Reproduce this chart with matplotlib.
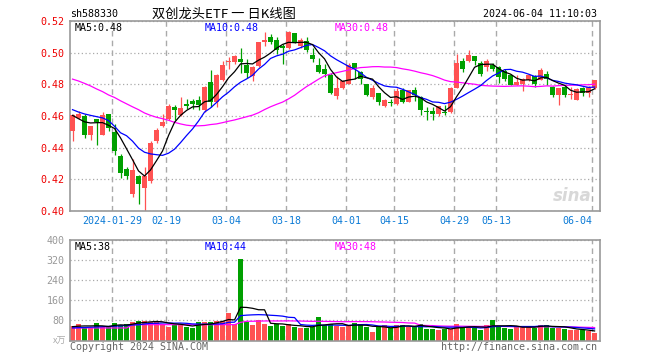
import numpy as np
import pandas as pd
import matplotlib
matplotlib.use("Agg")
import matplotlib.pyplot as plt
from matplotlib.transforms import blended_transform_factory

# trading days shown (Jan 18 - Jun 4 2024, exchange holidays removed)
holidays = ["2024-02-09", "2024-02-12", "2024-02-13", "2024-02-14", "2024-02-15",
            "2024-02-16", "2024-04-04", "2024-04-05", "2024-05-01", "2024-05-02", "2024-05-03"]
dates = [d.strftime("%Y-%m-%d") for d in pd.bdate_range("2024-01-18", "2024-06-04")
         if d.strftime("%Y-%m-%d") not in holidays]

opens = [0.4504, 0.4590, 0.4600, 0.4480, 0.4580, 0.4480, 0.4610, 0.4500, 0.4345, 0.4263,
         0.4105, 0.4220, 0.4148, 0.4190, 0.4440, 0.4535, 0.4580, 0.4660, 0.4608, 0.4675,
         0.4697, 0.4698, 0.4635, 0.4815, 0.4690, 0.4827, 0.4938, 0.4938, 0.4963, 0.4925,
         0.4855, 0.4915, 0.5067, 0.5098, 0.5077, 0.5042, 0.5030, 0.5125, 0.5045, 0.5075,
         0.4985, 0.4925, 0.4895, 0.4860, 0.4725, 0.4775, 0.4805, 0.4932, 0.4880, 0.4803,
         0.4720, 0.4744, 0.4665, 0.4690, 0.4678, 0.4763, 0.4690, 0.4763, 0.4718, 0.4627,
         0.4633, 0.4613, 0.4625, 0.4625, 0.4780, 0.4950, 0.4946, 0.4977, 0.4936, 0.4910,
         0.4925, 0.4908, 0.4885, 0.4858, 0.4796, 0.4800, 0.4825, 0.4855, 0.4827, 0.4865,
         0.4785, 0.4733, 0.4785, 0.4732, 0.4704, 0.4779, 0.4744, 0.4775]
highs = [0.4615, 0.4630, 0.4610, 0.4540, 0.4580, 0.4625, 0.4610, 0.4550, 0.4360, 0.4280,
         0.4330, 0.4230, 0.4280, 0.4445, 0.4525, 0.4610, 0.4675, 0.4670, 0.4720, 0.4705,
         0.4710, 0.4725, 0.4790, 0.4890, 0.4865, 0.4950, 0.4970, 0.4985, 0.5030, 0.4960,
         0.4915, 0.5070, 0.5130, 0.5120, 0.5098, 0.5055, 0.5140, 0.5125, 0.5090, 0.5100,
         0.5030, 0.4965, 0.4930, 0.4870, 0.4850, 0.4825, 0.4932, 0.4935, 0.4885, 0.4805,
         0.4795, 0.4747, 0.4710, 0.4708, 0.4775, 0.4775, 0.4766, 0.4785, 0.4728, 0.4655,
         0.4660, 0.4665, 0.4670, 0.4785, 0.4992, 0.4965, 0.5015, 0.4978, 0.4945, 0.4963,
         0.4935, 0.4915, 0.4895, 0.4862, 0.4858, 0.4838, 0.4863, 0.4858, 0.4903, 0.4885,
         0.4790, 0.4780, 0.4787, 0.4785, 0.4775, 0.4785, 0.4787, 0.4827]
lows = [0.4445, 0.4580, 0.4460, 0.4450, 0.4420, 0.4480, 0.4505, 0.4355, 0.4210, 0.4200,
        0.4090, 0.4045, 0.4000, 0.4180, 0.4430, 0.4530, 0.4575, 0.4575, 0.4600, 0.4645,
        0.4645, 0.4635, 0.4625, 0.4660, 0.4657, 0.4820, 0.4897, 0.4930, 0.4869, 0.4840,
        0.4820, 0.4910, 0.5045, 0.5055, 0.4994, 0.4931, 0.5025, 0.5063, 0.5030, 0.5005,
        0.4940, 0.4870, 0.4848, 0.4740, 0.4710, 0.4770, 0.4800, 0.4835, 0.4805, 0.4725,
        0.4705, 0.4669, 0.4660, 0.4663, 0.4672, 0.4685, 0.4687, 0.4695, 0.4604, 0.4577,
        0.4572, 0.4603, 0.4605, 0.4620, 0.4775, 0.4875, 0.4944, 0.4925, 0.4855, 0.4882,
        0.4885, 0.4810, 0.4818, 0.4795, 0.4795, 0.4760, 0.4820, 0.4785, 0.4825, 0.4795,
        0.4722, 0.4668, 0.4723, 0.4708, 0.4700, 0.4729, 0.4722, 0.4772]
closes = [0.4604, 0.4610, 0.4480, 0.4535, 0.4560, 0.4606, 0.4525, 0.4380, 0.4237, 0.4218,
          0.4260, 0.4170, 0.4220, 0.4430, 0.4510, 0.4565, 0.4660, 0.4635, 0.4650, 0.4665,
          0.4678, 0.4670, 0.4785, 0.4690, 0.4857, 0.4925, 0.4946, 0.4980, 0.4938, 0.4870,
          0.4910, 0.5065, 0.5077, 0.5067, 0.5020, 0.5030, 0.5133, 0.5065, 0.5080, 0.5018,
          0.4958, 0.4880, 0.4868, 0.4745, 0.4780, 0.4820, 0.4923, 0.4896, 0.4835, 0.4733,
          0.4777, 0.4686, 0.4704, 0.4685, 0.4757, 0.4690, 0.4763, 0.4730, 0.4637, 0.4623,
          0.4613, 0.4663, 0.4620, 0.4778, 0.4935, 0.4895, 0.4985, 0.4946, 0.4863, 0.4946,
          0.4896, 0.4849, 0.4835, 0.4796, 0.4817, 0.4835, 0.4860, 0.4802, 0.4890, 0.4833,
          0.4733, 0.4780, 0.4733, 0.4734, 0.4771, 0.4744, 0.4785, 0.4825]
# volume, in 万 shares
volumes = [58, 66, 49, 51, 70, 55, 54, 70, 62, 65, 74, 79, 78, 75, 73, 67, 55, 62, 66, 55,
           50, 74, 74, 74, 79, 79, 111, 67, 326, 75, 62, 82, 66, 58, 65, 58, 66, 54, 50, 50,
           53, 94, 62, 66, 58, 54, 58, 71, 66, 54, 34, 54, 62, 49, 62, 62, 55, 55, 66, 47,
           47, 42, 47, 47, 66, 55, 55, 51, 42, 62, 82, 55, 51, 46, 55, 58, 55, 51, 62, 62,
           51, 51, 46, 42, 40, 40, 38, 30]

# moving-average values before enough history exists
ma5_head = [0.4604, 0.4583, 0.4563, 0.4556]
ma10_head = [0.4640, 0.4625, 0.4613, 0.4604, 0.4596, 0.4588, 0.4571, 0.4535, 0.4494]
ma30_head = [0.4833, 0.4821, 0.4806, 0.4790, 0.4771, 0.4754, 0.4733, 0.4717, 0.4696, 0.4677,
             0.4658, 0.4640, 0.4619, 0.4604, 0.4592, 0.4583, 0.4573, 0.4560, 0.4550, 0.4542,
             0.4538, 0.4538, 0.4540, 0.4546, 0.4550, 0.4558, 0.4567, 0.4575, 0.4585]
vma5_head = [55, 57, 58, 58]
vma10_head = [50, 51, 52, 53, 54, 55, 56, 57, 58]
vma30_head = [50] * 10 + [63] * 18 + [72]

tick_dates = ["2024-01-29", "2024-02-19", "2024-03-04", "2024-03-18", "2024-04-01",
              "2024-04-15", "2024-04-29", "2024-05-13", "2024-06-04"]
tick_labels = ["2024-01-29", "02-19", "03-04", "03-18", "04-01", "04-15", "04-29", "05-13", "06-04"]

RED = "#ff5252"
GREEN = "#00a000"
GRID = "#aaaaaa"
MONO = "DejaVu Sans Mono"
FS = 7.2


def moving_avg(values, n, head):
    s = pd.Series(values, dtype=float).rolling(n).mean().to_numpy()
    s[:n - 1] = head
    return s


o, h, l, c = map(np.array, (opens, highs, lows, closes))
v = np.array(volumes, dtype=float)
x = np.arange(len(dates))
colors = np.where(c >= o, RED, GREEN)
tick_x = np.array([dates.index(d) for d in tick_dates]) - 0.4

W, H = 660, 360
fig = plt.figure(figsize=(W / 100, H / 100), dpi=100)
ax = fig.add_axes([70 / W, 1 - 211 / H, 530 / W, 190 / H])
axv = fig.add_axes([70 / W, 1 - 340.5 / H, 530 / W, 100.5 / H])

for a in (ax, axv):
    a.set_xlim(-0.42, 87.9)
    for sp in a.spines.values():
        sp.set_color("#999999")
        sp.set_linewidth(1.2)
    for tx in tick_x:
        a.axvline(tx, color=GRID, lw=1, ls=(0, (4, 3)), zorder=0)
    a.yaxis.grid(True, color=GRID, lw=0.9, ls=(0, (1, 2)), zorder=0)
    a.tick_params(length=0)
    a.set_xticks([])

# price panel
ax.set_ylim(0.40, 0.52)
ax.set_yticks(np.arange(0.40, 0.521, 0.02))
ax.set_yticklabels([f"{t:.2f}" for t in np.arange(0.40, 0.521, 0.02)],
                   color="#ee0000", fontfamily=MONO, fontsize=FS)
ax.tick_params(axis="y", pad=4)
ax.vlines(x, l, h, colors=colors, lw=0.9, zorder=2)
ax.bar(x, np.maximum(np.abs(c - o), 0.0006), bottom=np.minimum(o, c), width=0.8,
       color=colors, linewidth=0, zorder=3)
ax.plot(x, moving_avg(c, 30, ma30_head), color="#ff00ff", lw=0.9, zorder=4)
ax.plot(x, moving_avg(c, 10, ma10_head), color="#0000ff", lw=0.9, zorder=4)
ax.plot(x, moving_avg(c, 5, ma5_head), color="black", lw=0.9, zorder=4)

tr = blended_transform_factory(ax.transData, fig.transFigure)
for i, (tx, lab) in enumerate(zip(tick_x, tick_labels)):
    last = i == len(tick_x) - 1
    ax.text(tx, 1 - 221 / H, lab, transform=tr, ha="right" if last else "center",
            va="center", color="#0a7ad6", fontfamily=MONO, fontsize=FS)

ax.text(5 / 530, 1 - 7 / 190, "MA5:0.48", transform=ax.transAxes, color="black",
        fontfamily=MONO, fontsize=FS, va="center")
ax.text(135 / 530, 1 - 7 / 190, "MA10:0.48", transform=ax.transAxes, color="#0000ff",
        fontfamily=MONO, fontsize=FS, va="center")
ax.text(265 / 530, 1 - 7 / 190, "MA30:0.48", transform=ax.transAxes, color="#ff00ff",
        fontfamily=MONO, fontsize=FS, va="center")
ax.text(0.985, 0.08, "sina", transform=ax.transAxes, ha="right", va="center",
        color="#d8d8d8", fontsize=12, fontweight="bold", style="italic", zorder=1)

# volume panel
axv.set_ylim(0, 400)
axv.set_yticks([80, 160, 240, 320, 400])
axv.set_yticklabels(["80", "160", "240", "320", "400"], color="#999999",
                    fontfamily=MONO, fontsize=FS)
axv.tick_params(axis="y", pad=4)
axv.bar(x, v, width=0.8, color=colors, linewidth=0, zorder=2)
axv.plot(x, moving_avg(v, 30, vma30_head), color="#ff00ff", lw=0.9, zorder=4)
axv.plot(x, moving_avg(v, 10, vma10_head), color="#0000ff", lw=0.9, zorder=4)
axv.plot(x, moving_avg(v, 5, vma5_head), color="black", lw=0.9, zorder=4)
axv.text(5 / 530, 1 - 7 / 100.5, "MA5:38", transform=axv.transAxes, color="black",
         fontfamily=MONO, fontsize=FS, va="center")
axv.text(135 / 530, 1 - 7 / 100.5, "MA10:44", transform=axv.transAxes, color="#0000ff",
         fontfamily=MONO, fontsize=FS, va="center")
axv.text(265 / 530, 1 - 7 / 100.5, "MA30:48", transform=axv.transAxes, color="#ff00ff",
         fontfamily=MONO, fontsize=FS, va="center")

# header and footer
fig.text(70 / W, 1 - 14 / H, "sh588330", fontfamily=MONO, fontsize=FS, va="center")
fig.text(224 / W, 1 - 14 / H, "双创龙头ETF 一 日K线图", ha="center", va="center",
         family=["Noto Sans CJK SC", "DejaVu Sans"], fontsize=9.5)
fig.text(597 / W, 1 - 14 / H, "2024-06-04 11:10:03", ha="right", va="center",
         fontfamily=MONO, fontsize=FS)
fig.text(66 / W, 1 - 341 / H, "x万", ha="right", va="center", color="#aaaaaa",
         family=["Noto Sans CJK SC", "DejaVu Sans"], fontsize=6.5, style="italic")
fig.text(70 / W, 1 - 347 / H, "Copyright 2024 SINA.COM", va="center", color="#666666",
         fontfamily=MONO, fontsize=FS)
fig.text(597 / W, 1 - 347 / H, "http://finance.sina.com.cn", ha="right", va="center",
         color="#666666", fontfamily=MONO, fontsize=FS)

fig.savefig("out.png", dpi=100)
